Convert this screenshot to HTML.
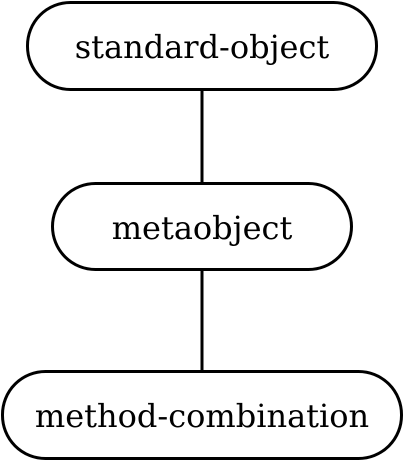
<!DOCTYPE html>
<html><head><style>html,body{margin:0;padding:0;background:#fff;}svg{display:block}</style></head>
<body>
<svg width="406" height="463" viewBox="0 0 406 463" xmlns="http://www.w3.org/2000/svg">
<g fill="none" stroke="#000" stroke-width="3">
<rect x="27.5" y="2.5" width="349" height="87" rx="43" ry="43" fill="#fff"/>
<rect x="52.5" y="183.5" width="299" height="86" rx="43" ry="43" fill="#fff"/>
<rect x="2.5" y="371.5" width="399" height="87" rx="43" ry="43" fill="#fff"/>
<line x1="202" y1="90" x2="202" y2="183"/>
<line x1="202" y1="270" x2="202" y2="371"/>
</g>
<g font-family="'DejaVu Serif','Liberation Serif',serif" font-size="32" text-anchor="middle" fill="#000">
<text x="202" y="58">standard-object</text>
<text x="202" y="239">metaobject</text>
<text x="202" y="427">method-combination</text>
</g>
</svg>
</body></html>
